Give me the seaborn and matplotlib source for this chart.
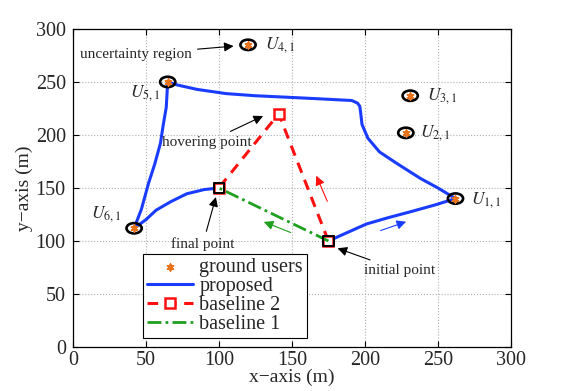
import numpy as np
import pandas as pd
import matplotlib
matplotlib.use("Agg")
import matplotlib.pyplot as plt
from matplotlib.path import Path
import seaborn as sns

# data
users_x = [262, 228, 231, 120, 65, 42]
users_y = [140, 202, 237, 285, 250, 112]
user_labels = ["$U_{1,1}$", "$U_{2,1}$", "$U_{3,1}$", "$U_{4,1}$", "$U_{5,1}$", "$U_{6,1}$"]

proposed_x = [175, 188, 201, 216, 231, 248, 262, 250, 238, 222, 210, 202, 198, 197, 196.5, 195, 191,
              170, 151, 125, 105, 85, 72, 65, 64, 62, 60, 56, 52, 47, 42,
              50, 57, 67, 78, 90, 100]
proposed_y = [100, 108, 116, 122, 127.5, 134, 140, 150, 159, 173, 184, 197, 210, 222, 227, 230, 232.5,
              234, 235.3, 237, 239, 243, 247, 250, 226, 210, 192, 172, 155, 130, 112,
              120, 129, 137, 144.5, 148.5, 150]

baseline2_x = [175, 141, 100]
baseline2_y = [100, 220, 150]

baseline1_x = [175, 100]
baseline1_y = [100, 150]

endpoints_x = [175, 100]
endpoints_y = [100, 150]

sns.set_style("whitegrid", {"grid.linestyle": ":", "grid.color": "#b0b0b0",
                            "axes.edgecolor": "black", "xtick.direction": "in",
                            "ytick.direction": "in"})
plt.rcParams["font.family"] = ["Liberation Serif", "DejaVu Serif"]
plt.rcParams["mathtext.fontset"] = "stix"

fig = plt.figure(figsize=(5.64, 3.91), dpi=100)
ax = fig.add_axes([0.129, 0.1125, 0.777, 0.8135])

blue = "#1a3cff"
red = "#ff1010"
green = "#1fa01f"
orange = "#e8731c"

# ellipse marker for the uncertainty regions
circ = Path.unit_circle()
ellipse = Path(circ.vertices * np.array([1.0, 0.68]), circ.codes)

df_prop = pd.DataFrame({"x": proposed_x, "y": proposed_y})
df_b2 = pd.DataFrame({"x": baseline2_x, "y": baseline2_y})
df_b1 = pd.DataFrame({"x": baseline1_x, "y": baseline1_y})
df_users = pd.DataFrame({"x": users_x, "y": users_y})

sns.lineplot(data=df_prop, x="x", y="y", sort=False, estimator=None, color=blue,
             linewidth=2.2, ax=ax, label="proposed")
sns.lineplot(data=df_b2, x="x", y="y", sort=False, estimator=None, color=red,
             linewidth=2.2, linestyle=(0, (3.5, 2.5)), marker="s", markersize=7,
             markerfacecolor="white", markeredgecolor=red, markeredgewidth=1.8,
             ax=ax, label="baseline 2")
sns.lineplot(data=df_b1, x="x", y="y", sort=False, estimator=None, color=green,
             linewidth=2.0, linestyle=(0, (5, 1.5, 1, 1.5)), ax=ax, label="baseline 1")

# black squares at initial and final points
ax.scatter(endpoints_x, endpoints_y, marker="s", s=55, facecolors="none",
           edgecolors="black", linewidths=1.4, zorder=5)

# uncertainty ellipses and ground users
ax.scatter(users_x, users_y, marker=ellipse, s=120, facecolors="none",
           edgecolors="black", linewidths=1.9, zorder=6)
sns.scatterplot(data=df_users, x="x", y="y", marker=(6, 2, 0), s=22, color=orange,
                edgecolor=orange, linewidth=1.3, zorder=7, ax=ax, label="ground users")

# user labels
offsets = [(11, -1), (10, 0), (12, 0), (12, 0), (-5, -8), (-9, 10)]
aligns = ["left", "left", "left", "left", "right", "right"]
for x, y, lab, off, ha in zip(users_x, users_y, user_labels, offsets, aligns):
    ax.annotate(lab, (x, y), xytext=off, textcoords="offset points",
                fontsize=12.5, va="center", ha=ha)

# annotations
arr = dict(arrowstyle="-|>", color="black", lw=0.8, mutation_scale=14)
ax.annotate("uncertainty region", xy=(112, 284), xytext=(43, 276), fontsize=11,
            ha="center", va="center", arrowprops=arr)
ax.annotate("hovering point", xy=(132, 219), xytext=(92, 193), fontsize=11,
            ha="center", va="center", arrowprops=arr)
ax.annotate("final point", xy=(98.5, 144), xytext=(89, 97), fontsize=11,
            ha="center", va="center", arrowprops=arr)
ax.annotate("initial point", xy=(179.5, 94), xytext=(224, 72), fontsize=11,
            ha="center", va="center", arrowprops=arr)

# direction arrows
ax.annotate("", xy=(166, 164), xytext=(175, 135),
            arrowprops=dict(arrowstyle="-|>", color=red, lw=0.8, mutation_scale=14))
ax.annotate("", xy=(129, 119), xytext=(151, 107),
            arrowprops=dict(arrowstyle="-|>", color=green, lw=0.8, mutation_scale=14))
ax.annotate("", xy=(230, 119), xytext=(209, 109),
            arrowprops=dict(arrowstyle="-|>", color=blue, lw=0.8, mutation_scale=14))

ax.set_xlim(0, 300)
ax.set_ylim(0, 300)
ax.set_xticks(range(0, 301, 50))
ax.set_yticks(range(0, 301, 50))
ax.tick_params(labelsize=14.5, length=4, color="black", direction="in",
               top=True, right=True, bottom=True, left=True)
ax.tick_params(axis="x", pad=3)
ax.tick_params(axis="y", pad=5)
ax.set_xlabel("x\u2212axis (m)", fontsize=14, labelpad=-1)
ax.set_ylabel("y\u2212axis (m)", fontsize=14, labelpad=2)
for sp in ax.spines.values():
    sp.set_color("black")
    sp.set_linewidth(0.9)

handles, labels = ax.get_legend_handles_labels()
order = [labels.index(l) for l in ["ground users", "proposed", "baseline 2", "baseline 1"]]
leg = ax.legend([handles[i] for i in order], [labels[i] for i in order],
                loc="lower left", bbox_to_anchor=(0.16, 0.028), borderaxespad=0,
                fontsize=14.5, handlelength=2.3, handletextpad=0.3, labelspacing=0.0,
                borderpad=0.2, fancybox=False, framealpha=1, edgecolor="black")
leg.get_frame().set_linewidth(0.8)

fig.savefig("out.png", dpi=100)
